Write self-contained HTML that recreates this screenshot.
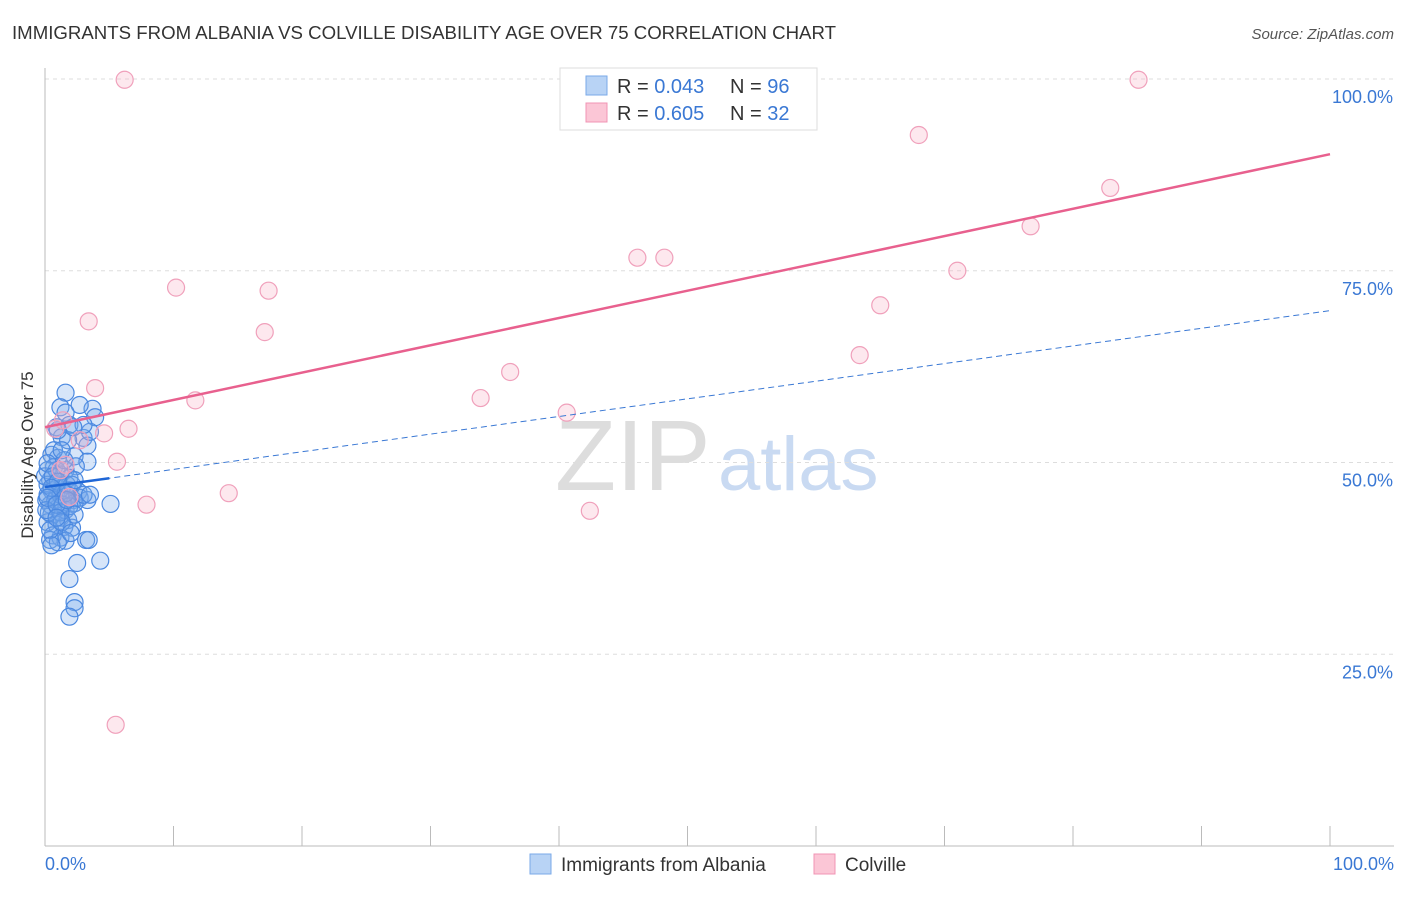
<!DOCTYPE html>
<html><head><meta charset="utf-8"><style>
body{margin:0;background:#fff;font-family:"Liberation Sans",sans-serif;}
svg text{font-family:"Liberation Sans",sans-serif;}
</style></head><body>
<svg id="chart" width="1406" height="892" xmlns="http://www.w3.org/2000/svg">
<text x="12" y="39" font-size="18" fill="#333" textLength="824" lengthAdjust="spacingAndGlyphs">IMMIGRANTS FROM ALBANIA VS COLVILLE DISABILITY AGE OVER 75 CORRELATION CHART</text>
<text x="1394" y="39" font-size="15" fill="#555" text-anchor="end" font-style="italic">Source: ZipAtlas.com</text>
<text x="555" y="490" font-size="100" fill="#ddd" font-family="Liberation Serif">ZIP</text>
<text x="718" y="490" font-size="76" fill="#c9daf2">atlas</text>
<g id="grid"></g><g id="axes"></g><g id="pts"></g><g id="lines"></g>
<text transform="translate(33,455) rotate(-90)" font-size="17" fill="#333" text-anchor="middle">Disability Age Over 75</text>
<g>
<rect x="560" y="68" width="257" height="62" fill="#fff" stroke="#ddd"/>
<rect x="586" y="76" width="21" height="19" fill="#b8d3f5" stroke="#7aa9e8"/>
<rect x="586" y="103" width="21" height="19" fill="#fbc6d6" stroke="#f094b4"/>
<text x="617" y="93" font-size="20" fill="#333">R = <tspan fill="#3a78d4">0.043</tspan></text>
<text x="730" y="93" font-size="20" fill="#333">N = <tspan fill="#3a78d4">96</tspan></text>
<text x="617" y="120" font-size="20" fill="#333">R = <tspan fill="#3a78d4">0.605</tspan></text>
<text x="730" y="120" font-size="20" fill="#333">N = <tspan fill="#3a78d4">32</tspan></text>
</g>
<g>
<rect x="530" y="854" width="21" height="20" fill="#b8d3f5" stroke="#7aa9e8"/>
<text x="561" y="871" font-size="19" fill="#333">Immigrants from Albania</text>
<rect x="814" y="854" width="21" height="20" fill="#fbc6d6" stroke="#f094b4"/>
<text x="845" y="871" font-size="19" fill="#333">Colville</text>
</g>
</svg>
<script>
const yTicks=[25,50,75,100];
const xTickLabels=["0.0%","100.0%"];
const pinkX=[6.2,85.1,68.0,82.9,76.7,46.1,48.2,71.0,10.2,17.4,65.0,3.4,17.1,63.4,36.2,3.9,11.7,33.9,40.6,6.5,4.6,0.8,1.4,5.6,1.6,14.3,7.9,42.4,5.5,1.9,1.2,2.7];
const pinkY=[99.9,99.9,92.7,85.8,80.8,76.7,76.7,75.0,72.8,72.4,70.5,68.4,67.0,64.0,61.8,59.7,58.1,58.4,56.5,54.4,53.8,54.4,55.5,50.1,49.7,46.0,44.5,43.7,15.8,45.5,49.0,52.9];
const blueX=[1.6,1.2,3.7,2.7,1.6,3.9,1.9,0.9,1.3,3.0,1.8,3.3,0.5,1.0,2.3,3.3,0.7,1.6,2.4,1.2,1.9,0.4,0.8,1.3,1.9,2.6,0.2,0.9,1.6,2.2,2.7,3.3,5.1,0.4,1.0,1.6,2.3,0.5,1.2,1.8,0.2,0.9,1.5,2.1,0.6,1.2,3.2,1.6,0.4,1.0,4.3,2.5,1.9,2.3,2.3,1.9,0.2,0.5,0.1,0.2,0.3,0.8,1.2,1.4,1.7,2.1,0,0.1,0.4,0.9,1.5,0.7,3.5,3.0,2.2,1.3,1.0,0.2,0.6,1.9,2.3,3.0,3.5,1.2,1.0,1.6,0.5,0.2,0.9,1.3,2.0,3.4,0.5,0.9,1.7,2.3];
const blueY=[59.1,57.2,57.0,57.5,56.5,55.9,54.9,54.6,53.3,53.2,52.9,52.2,51.0,50.6,50.8,50.1,49.4,49.0,49.5,48.4,48.0,47.7,47.1,46.7,46.4,46.2,45.8,45.5,45.2,45.1,45.4,45.1,44.6,44.5,44.1,43.8,44.7,43.2,42.8,42.5,42.2,41.9,41.6,41.5,40.5,40.2,39.9,39.8,39.9,39.6,37.2,36.9,34.8,31.8,31.0,29.9,49.0,46.4,45.1,47.1,43.5,45.1,45.8,44.5,47.1,47.1,48.2,43.8,41.2,49.0,50.3,51.6,54.0,54.9,54.6,51.6,54.2,49.9,48.2,44.3,43.2,45.8,45.8,43.5,47.5,46.0,46.7,45.4,44.5,42.2,40.8,39.9,39.2,42.8,45.1,47.7];
const pinkLine=[54.6,90.2];
const blueLine=[46.8,69.8];
const X=v=>45+v*12.85, Y=v=>846-v*7.67;
const NS="http://www.w3.org/2000/svg";
function mk(tag,attrs,parent){const e=document.createElementNS(NS,tag);for(const k in attrs)e.setAttribute(k,attrs[k]);document.getElementById(parent).appendChild(e);return e;}
yTicks.forEach(t=>{
 const l=mk('line',{x1:45,x2:1394,y1:Y(t),y2:Y(t),stroke:'#ddd','stroke-dasharray':'4,4'},'grid');
 
 
 const tx=mk('text',{x:1393,y:Y(t)+24,'font-size':18,fill:'#3a78d4','text-anchor':'end'},'grid');
 tx.textContent=t.toFixed(1)+'%';
 
 
});
const ax=mk('line',{x1:45,x2:45,y1:68,y2:846,stroke:'#bbb'},'axes');


const bx=mk('line',{x1:45,x2:1394,y1:846,y2:846,stroke:'#bbb'},'axes');


for(let i=1;i<=10;i++){const t=mk('line',{x1:X(i*10),x2:X(i*10),y1:826,y2:846,stroke:'#bbb'},'axes');
 
 }
[[0,'start',45],[100,'end',1394]].forEach((d,i)=>{const t=mk('text',{x:d[2],y:870,'font-size':18,fill:'#3a78d4','text-anchor':d[1]},'axes');t.textContent=xTickLabels[i];
 
 });
blueX.forEach((v,i)=>{const c=mk('circle',{cx:X(v),cy:Y(blueY[i]),r:8.5,fill:'rgba(120,170,235,0.3)',stroke:'#4a88e0','stroke-width':1.2},'pts');
 
 });
pinkX.forEach((v,i)=>{const c=mk('circle',{cx:X(v),cy:Y(pinkY[i]),r:8.5,fill:'rgba(248,180,200,0.3)',stroke:'#f0a0bb','stroke-width':1.2},'pts');
 
 });
const pl=mk('line',{x1:X(0),y1:Y(pinkLine[0]),x2:X(100),y2:Y(pinkLine[1]),stroke:'#e8608e','stroke-width':2.5},'lines');


const bl=mk('line',{x1:X(0),y1:Y(blueLine[0]),x2:X(100),y2:Y(blueLine[1]),stroke:'#3a78d4','stroke-width':1,'stroke-dasharray':'6,4'},'lines');


const bs=mk('line',{x1:X(0),y1:Y(blueLine[0]),x2:X(5),y2:Y(blueLine[0]+(blueLine[1]-blueLine[0])*0.05),stroke:'#1f66d6','stroke-width':2.5},'lines');


</script>
</body></html>
